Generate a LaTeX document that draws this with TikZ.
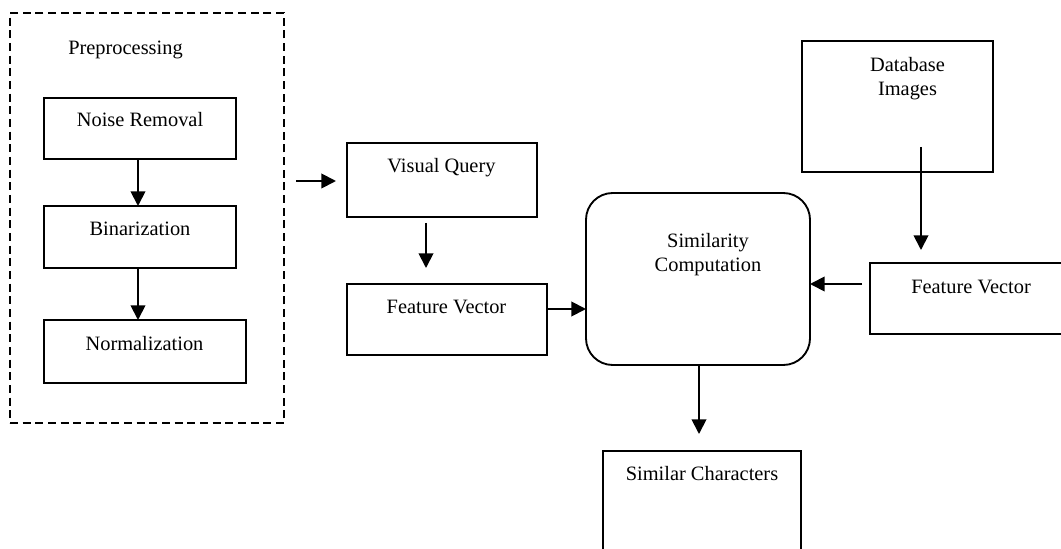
\documentclass[tikz,border=0pt]{standalone}
\usepackage{fontspec}
\setmainfont{Liberation Serif}
\usetikzlibrary{arrows.meta}
\begin{document}
\begin{tikzpicture}[x=0.75pt,y=-0.75pt,
  box/.style={draw, line width=1.4pt, inner sep=0pt, outer sep=0pt},
  rbox/.style={box, rounded corners=20pt},
  frame/.style={draw, line width=1.3pt, dash pattern=on 6pt off 3.5pt},
  lbl/.style={inner sep=0pt, anchor=base, align=center, font=\fontsize{15.3}{18}\selectfont},
  arr/.style={line width=1.4pt, -{Triangle[length=11pt,width=11pt]}}]
\useasboundingbox (0,0) rectangle (1061,549);
\clip (0,0) rectangle (1061,549);
% preprocessing frame
\node[frame, inner sep=0pt, minimum width=0.75pt*274, minimum height=0.75pt*410] (pre) at (147,218) {};
\node[lbl] (preT) at (125.5,55) {Preprocessing};
% boxes
\node[box, minimum width=0.75pt*192, minimum height=0.75pt*61] (nr) at (140,128.5) {};
\node[box, minimum width=0.75pt*192, minimum height=0.75pt*62] (bin) at (140,237) {};
\node[box, minimum width=0.75pt*202, minimum height=0.75pt*63] (norm) at (145,351.5) {};
\node[box, minimum width=0.75pt*190, minimum height=0.75pt*74] (vq) at (442,180) {};
\node[box, minimum width=0.75pt*200, minimum height=0.75pt*71] (fv) at (447,319.5) {};
\node[rbox, minimum width=0.75pt*224, minimum height=0.75pt*172] (sim) at (698,279) {};
\node[box, minimum width=0.75pt*191, minimum height=0.75pt*131] (db) at (897.5,106.5) {};
\node[box, minimum width=0.75pt*210, minimum height=0.75pt*71] (fv2) at (975,298.5) {};
\node[box, minimum width=0.75pt*198, minimum height=0.75pt*149] (sc) at (702,525.5) {};
% texts
\node[lbl] (nrT) at (140,127) {Noise Removal};
\node[lbl] (binT) at (140,236) {Binarization};
\node[lbl] (normT) at (144.5,350) {Normalization};
\node[lbl] (vqT) at (441.5,173) {Visual Query};
\node[lbl] (fvT) at (446.5,313) {Feature Vector};
\node[lbl] (simT) at (708,272) {Similarity\\Computation};
\node[lbl] (dbT) at (907.5,96) {Database\\Images};
\node[lbl] (fv2T) at (971,293) {Feature Vector};
\node[lbl] (scT) at (702,480) {Similar Characters};
% connectors
\coordinate (inS) at (296,181);
\coordinate (dbS) at (921,147);
\draw[arr] (nr.south -| 138,0) -- (bin.north -| 138,0);
\draw[arr] (bin.south -| 138,0) -- (norm.north -| 138,0);
\draw[arr, shorten >=8.25pt] (inS) -- (vq.west |- inS);
\draw[arr, shorten <=4.5pt, shorten >=12pt] (vq.south -| 426,0) -- (fv.north -| 426,0);
\draw[arr] (fv.east |- 0,309) -- (sim.west |- 0,309);
\draw[arr, shorten <=6pt] (fv2.west |- 0,284) -- (sim.east |- 0,284);
\draw[arr, shorten >=9.75pt] (dbS) -- (fv2.north -| dbS);
\draw[arr, shorten >=12.75pt] (sim.south -| 699,0) -- (sc.north -| 699,0);
\end{tikzpicture}
\end{document}
